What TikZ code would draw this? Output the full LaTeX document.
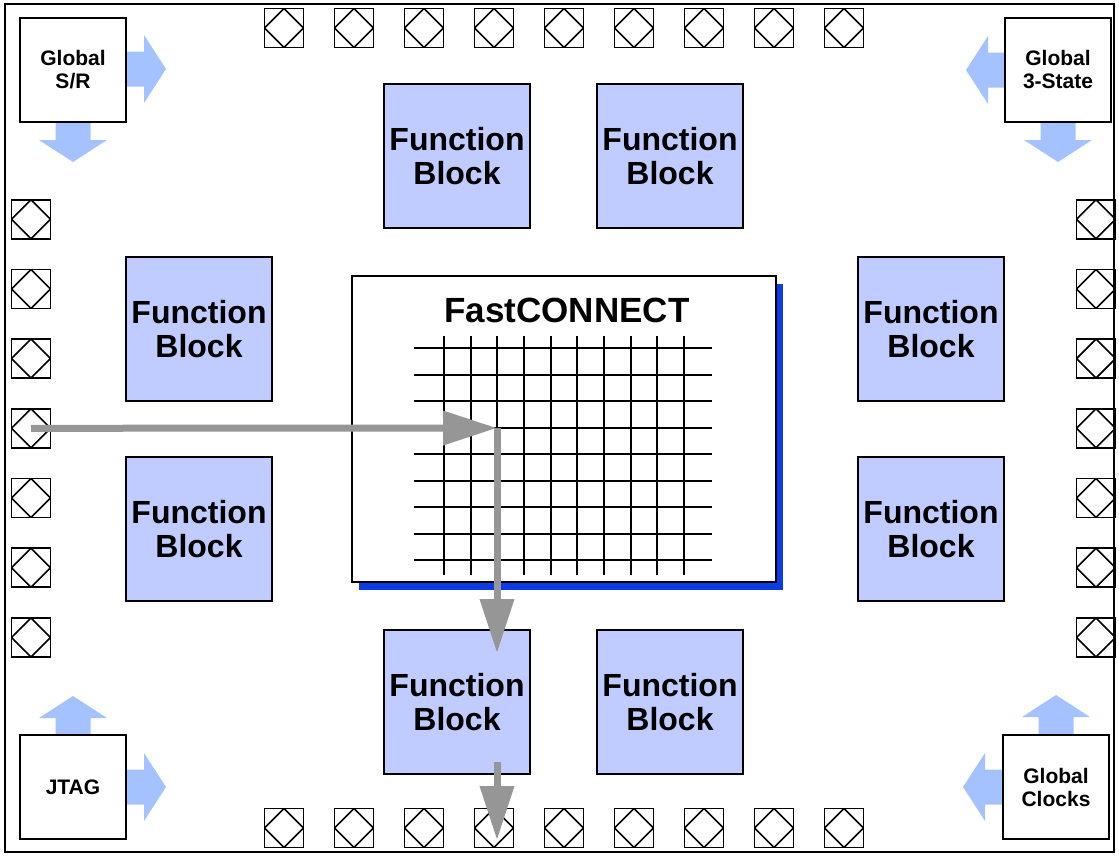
\documentclass[tikz,border=0pt]{standalone}
\usepackage{fontspec}
\setmainfont{Liberation Sans}
\usetikzlibrary{arrows.meta,shadows}

\definecolor{blockblue}{RGB}{192,204,255}
\definecolor{arrowblue}{RGB}{163,194,255}
\definecolor{shadowblue}{RGB}{12,60,230}
\definecolor{routegray}{RGB}{150,150,150}

\tikzset{
  fblock/.style={draw, line width=2pt, fill=blockblue, minimum width=146pt, minimum height=144pt,
    inner sep=0pt, align=center, font=\bfseries\fontsize{32}{34}\selectfont},
  gbox/.style={draw, line width=2pt, fill=white, minimum width=106pt, minimum height=104pt,
    inner sep=0pt, align=center, font=\bfseries\fontsize{21}{23}\selectfont},
  pad/.style={draw, line width=1.6pt, minimum size=39pt, inner sep=0pt,
    path picture={\draw[line width=1.6pt] (path picture bounding box.north) -- (path picture bounding box.east)
      -- (path picture bounding box.south) -- (path picture bounding box.west) -- cycle;}},
  route/.style={draw=routegray, line width=7pt, -{Triangle[length=54pt,width=33pt]}},
  pics/fatarrow/.style={code={
    \fill[arrowblue] (0,-17.5) -- (18,-17.5) -- (18,-34) -- (40,0) -- (18,34) -- (18,17.5) -- (0,17.5) -- cycle;}}
}

\begin{document}
\begin{tikzpicture}[x=1pt, y=-1pt]
  \useasboundingbox (0,0) rectangle (1119,855);
  \draw[line width=2pt] (5,4) rectangle (1114,852);

  % I/O pads
  \foreach \i in {1,...,9} {
    \node[pad] (top\i) at ({214+70*\i},28) {};
    \node[pad] (bot\i) at ({214+70*\i},828) {};
  }
  \foreach \i in {1,...,7} {
    \node[pad] (left\i) at (31,{149.5+69.7*\i}) {};
    \node[pad] (right\i) at (1096,{149.5+69.7*\i}) {};
  }

  % global signals
  \pic at (126,69) {fatarrow};
  \pic[rotate=-90] at (73,122) {fatarrow};
  \pic[rotate=180] at (1006,70) {fatarrow};
  \pic[rotate=-90] at (1058,122) {fatarrow};
  \pic[rotate=90] at (73,736) {fatarrow};
  \pic at (126,787) {fatarrow};
  \pic[rotate=90] at (1056,735) {fatarrow};
  \pic[rotate=180] at (1003,787) {fatarrow};
  \node[gbox] (gsr) at (73,70) {Global\\S/R};
  \node[gbox] (g3s) at (1058,70) {Global\\3-State};
  \node[gbox] (jtag) at (73,787) {JTAG};
  \node[gbox] (gclk) at (1056,787) {Global\\Clocks};

  % function blocks
  \node[fblock] (fbtl) at (457,156) {Function\\Block};
  \node[fblock] (fbtr) at (670,156) {Function\\Block};
  \node[fblock] (fblt) at (199,329) {Function\\Block};
  \node[fblock] (fblb) at (199,529) {Function\\Block};
  \node[fblock] (fbrt) at (931,329) {Function\\Block};
  \node[fblock] (fbrb) at (931,529) {Function\\Block};
  \node[fblock] (fbbl) at (457,702) {Function\\Block};
  \node[fblock] (fbbr) at (670,702) {Function\\Block};

  % switch matrix
  \node[draw, line width=2pt, fill=white, minimum width=424pt, minimum height=306pt,
    drop shadow={shadow xshift=7pt, shadow yshift=-8pt, fill=shadowblue, opacity=1}] (fc) at (564,429) {};
  \node[font=\bfseries\fontsize{35}{37}\selectfont] (fclabel) at (567,310) {FastCONNECT};
  \foreach \i in {0,...,9}
    \draw[line width=2pt] ({444+26.67*\i},336) -- ({444+26.67*\i},575);
  \foreach \j in {0,...,8}
    \draw[line width=2pt] (414,{348+26.5*\j}) -- (712,{348+26.5*\j});

  % signal path
  \coordinate (turn) at (497,428);
  \coordinate (fbin) at (497,653);
  \coordinate (fbout) at (497,762);
  \coordinate (padin) at (497,840);
  \draw[route] (left4.center) -- (turn);
  \draw[route] (turn) -- (fbin);
  \draw[route] (fbout) -- (padin);
\end{tikzpicture}
\end{document}
